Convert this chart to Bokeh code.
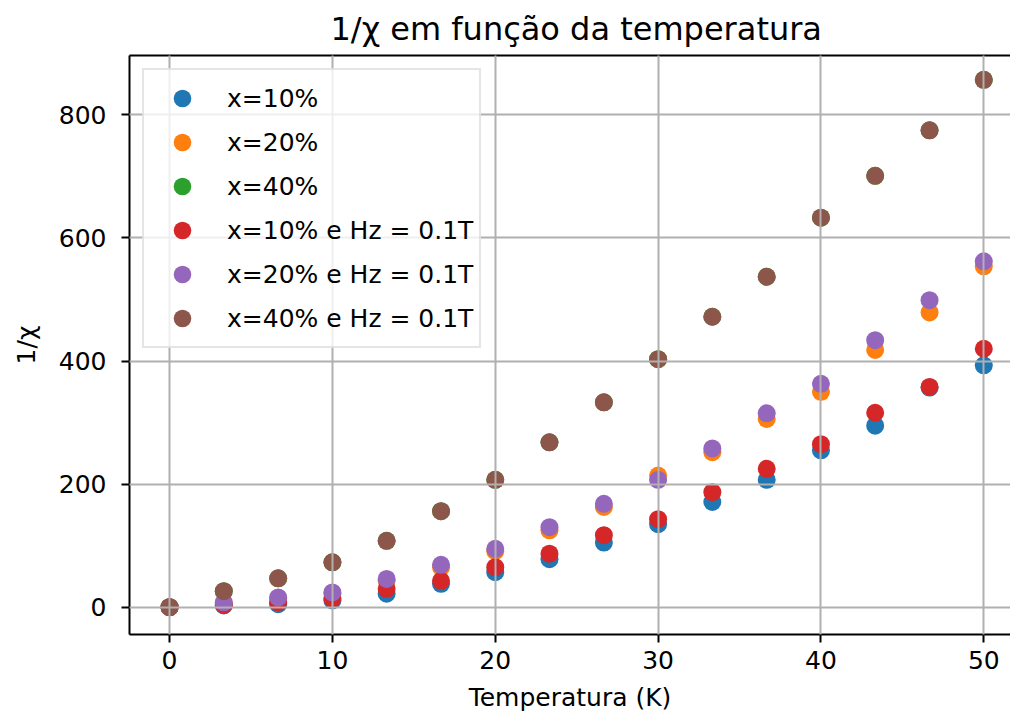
from bokeh.plotting import figure
from bokeh.models import Range1d, FixedTicker, LinearAxis, Legend
from bokeh.embed import file_html
from bokeh.resources import INLINE

temperatura = [0, 3.33, 6.67, 10, 13.33, 16.67, 20, 23.33, 26.67, 30, 33.33, 36.67, 40, 43.33, 46.67, 50]

x10 = [0, 3, 5, 11, 22, 38, 57, 78, 105, 135, 171, 207, 255, 295, 357, 393]
x20 = [0, 6, 14, 22, 43, 65, 91, 125, 163, 214, 252, 306, 350, 418, 479, 554]
x40 = [0, 26, 47, 73, 108, 156, 207, 268, 333, 403, 472, 537, 633, 701, 775, 857]
x10_h = [0, 4, 8, 14, 30, 43, 65, 87, 117, 143, 187, 225, 265, 316, 358, 420]
x20_h = [0, 8, 16, 24, 46, 69, 95, 130, 168, 207, 258, 315, 363, 434, 499, 562]
x40_h = [0, 26, 47, 73, 108, 156, 207, 268, 333, 403, 472, 537, 633, 701, 775, 857]

series_labels = ["x=10%", "x=20%", "x=40%",
                 "x=10% e Hz = 0.1T", "x=20% e Hz = 0.1T", "x=40% e Hz = 0.1T"]
series_values = [x10, x20, x40, x10_h, x20_h, x40_h]
colors = ["#1f77b4", "#ff7f0e", "#2ca02c", "#d62728", "#9467bd", "#8c564b"]

x_ticks = [0, 10, 20, 30, 40, 50]
y_ticks = [0, 200, 400, 600, 800]

FONT = "DejaVu Sans"

p = figure(width=1010, height=716, output_backend="svg", toolbar_location=None,
           x_range=Range1d(-2.46, 51.64), y_range=Range1d(-44.3, 896.5),
           min_border_left=129, min_border_right=0, min_border_top=54, min_border_bottom=82,
           title="1/χ em função da temperatura")

p.title.text_font = FONT
p.title.text_font_size = "32px"
p.title.text_font_style = "normal"
p.title.align = "left"
p.title.offset = 201
p.title.standoff = 15
p.title.text_color = "black"

renderers = []
for lab, vals, col in zip(series_labels, series_values, colors):
    r = p.scatter(temperatura, vals, size=18, fill_color=col, line_color=col, line_width=0)
    renderers.append((lab, [r]))

p.outline_line_color = None

for ax in (p.xaxis[0], p.yaxis[0]):
    ax.axis_line_width = 2
    ax.axis_line_color = "black"
    ax.major_tick_line_width = 2
    ax.major_tick_line_color = "black"
    ax.major_tick_out = 8
    ax.major_tick_in = 0
    ax.minor_tick_out = 0
    ax.minor_tick_in = 0
    ax.major_label_text_font = FONT
    ax.major_label_text_font_size = "25px"
    ax.major_label_text_color = "black"
    ax.axis_label_text_font = FONT
    ax.axis_label_text_font_size = "25px"
    ax.axis_label_text_font_style = "normal"
    ax.axis_label_text_color = "black"

p.xaxis[0].ticker = FixedTicker(ticks=x_ticks)
p.yaxis[0].ticker = FixedTicker(ticks=y_ticks)
p.xaxis[0].axis_label = "Temperatura (K)"
p.yaxis[0].axis_label = "1/χ"
p.xaxis[0].major_label_standoff = 8
p.yaxis[0].major_label_standoff = 15
p.xaxis[0].axis_label_standoff = 11
p.yaxis[0].axis_label_standoff = 15

top = LinearAxis(ticker=FixedTicker(ticks=[]), major_label_text_font_size="0px",
                 major_tick_out=0, major_tick_in=0, minor_tick_out=0, minor_tick_in=0,
                 axis_line_width=2, axis_line_color="black", major_label_standoff=0)
p.add_layout(top, "above")

p.xgrid.ticker = FixedTicker(ticks=x_ticks)
p.ygrid.ticker = FixedTicker(ticks=y_ticks)
for g in (p.xgrid[0], p.ygrid[0]):
    g.grid_line_color = "#b0b0b0"
    g.grid_line_width = 2
    g.level = "guide"

legend = Legend(items=renderers, location="top_left")
legend.label_text_font = FONT
legend.label_text_font_size = "25px"
legend.label_text_color = "black"
legend.glyph_width = 64
legend.glyph_height = 44
legend.label_height = 44
legend.spacing = 0
legend.padding = 6
legend.margin = 13
legend.label_standoff = 13
legend.border_line_color = "#cccccc"
legend.border_line_width = 2
legend.background_fill_alpha = 0.8
p.add_layout(legend)

open("out.html", "w").write(file_html(p, INLINE))
